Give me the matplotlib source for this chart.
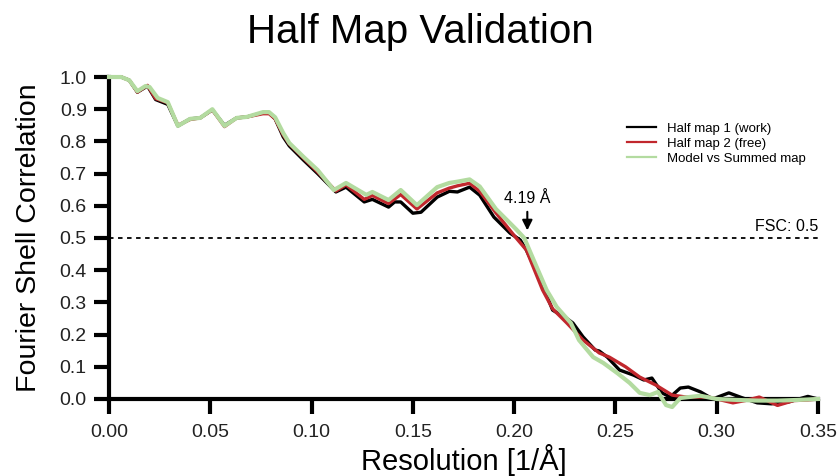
import matplotlib
matplotlib.use("Agg")
import matplotlib.pyplot as plt

plt.rcParams['font.family'] = ['Liberation Sans', 'DejaVu Sans']

# Half map 1 (work)
x_work = [0, 0.006, 0.010, 0.014, 0.019, 0.023, 0.029, 0.034, 0.040, 0.045, 0.051, 0.057,
          0.063, 0.068, 0.076, 0.079, 0.082, 0.086, 0.089, 0.096, 0.103, 0.112, 0.117, 0.126,
          0.130, 0.138, 0.141, 0.144, 0.150, 0.154, 0.162, 0.168, 0.172, 0.178, 0.183, 0.190,
          0.198, 0.203, 0.206, 0.213, 0.219, 0.226, 0.229, 0.234, 0.240, 0.242, 0.246, 0.252,
          0.259, 0.264, 0.268, 0.273, 0.277, 0.282, 0.286, 0.292, 0.298, 0.306, 0.312, 0.320,
          0.327, 0.335, 0.345, 0.350]
y_work = [1.0, 1.0, 0.99, 0.953, 0.972, 0.93, 0.915, 0.848, 0.87, 0.873, 0.898, 0.85,
          0.873, 0.876, 0.889, 0.889, 0.87, 0.814, 0.786, 0.742, 0.70, 0.643, 0.658, 0.612,
          0.62, 0.596, 0.612, 0.612, 0.577, 0.58, 0.627, 0.645, 0.643, 0.658, 0.633, 0.565,
          0.515, 0.494, 0.463, 0.37, 0.276, 0.25, 0.236, 0.193, 0.152, 0.149, 0.13, 0.09,
          0.074, 0.059, 0.065, 0.019, 0.006, 0.034, 0.037, 0.022, 0.0, 0.019, 0.005, -0.012,
          -0.015, -0.01, 0.008, 0.0]

# Half map 2 (free)
x_free = [0, 0.006, 0.010, 0.014, 0.019, 0.023, 0.029, 0.034, 0.040, 0.045, 0.051, 0.057,
          0.063, 0.068, 0.076, 0.079, 0.082, 0.086, 0.089, 0.096, 0.103, 0.112, 0.117, 0.126,
          0.130, 0.138, 0.144, 0.152, 0.162, 0.168, 0.172, 0.178, 0.183, 0.191, 0.201, 0.206,
          0.214, 0.219, 0.226, 0.234, 0.242, 0.247, 0.255, 0.262, 0.270, 0.278, 0.285, 0.296,
          0.308, 0.314, 0.321, 0.330, 0.338, 0.345, 0.350]
y_free = [1.0, 1.0, 0.99, 0.953, 0.974, 0.933, 0.92, 0.85, 0.868, 0.873, 0.898, 0.846,
          0.873, 0.876, 0.886, 0.886, 0.87, 0.82, 0.792, 0.748, 0.705, 0.646, 0.665, 0.62,
          0.632, 0.607, 0.635, 0.59, 0.64, 0.655, 0.662, 0.67, 0.645, 0.578, 0.50, 0.463,
          0.339, 0.28, 0.236, 0.183, 0.143, 0.13, 0.10, 0.068, 0.043, 0.012, 0.006, 0.006,
          -0.012, -0.005, 0.006, -0.02, -0.005, -0.003, 0.0]

# Model vs Summed map
x_model = [0, 0.006, 0.010, 0.014, 0.018, 0.020, 0.024, 0.029, 0.034, 0.040, 0.045, 0.051,
           0.057, 0.063, 0.068, 0.076, 0.079, 0.082, 0.086, 0.089, 0.096, 0.103, 0.111, 0.117,
           0.127, 0.130, 0.138, 0.144, 0.152, 0.162, 0.168, 0.172, 0.178, 0.183, 0.191, 0.201,
           0.205, 0.209, 0.216, 0.221, 0.228, 0.232, 0.239, 0.244, 0.251, 0.257, 0.262, 0.267,
           0.271, 0.275, 0.278, 0.282, 0.292, 0.300, 0.310, 0.320, 0.330, 0.340, 0.350]
y_model = [1.0, 1.0, 0.99, 0.956, 0.972, 0.969, 0.935, 0.922, 0.848, 0.87, 0.873, 0.90,
           0.848, 0.873, 0.876, 0.891, 0.891, 0.875, 0.826, 0.795, 0.752, 0.711, 0.649, 0.671,
           0.634, 0.643, 0.618, 0.649, 0.602, 0.658, 0.671, 0.675, 0.682, 0.66, 0.59, 0.527,
           0.50, 0.441, 0.339, 0.286, 0.236, 0.183, 0.13, 0.112, 0.08, 0.05, 0.019, 0.012,
           0.022, -0.019, -0.025, 0.003, 0.01, 0.0, -0.003, -0.005, -0.005, -0.003, 0.0]

fsc_cut = 0.5
res_x = 0.2065

fig = plt.figure(figsize=(8.4, 4.76), dpi=100)
ax = fig.add_axes([0.1298, 0.1618, 0.8440, 0.6764])

ax.plot(x_work, y_work, color='black', lw=2.4, clip_on=False, zorder=3,
        solid_joinstyle='round', label='Half map 1 (work)')
ax.plot(x_free, y_free, color='#c1272d', lw=2.4, clip_on=False, zorder=4,
        solid_joinstyle='round', label='Half map 2 (free)')
ax.plot(x_model, y_model, color='#b3dba0', lw=3.0, clip_on=False, zorder=5,
        solid_joinstyle='round', label='Model vs Summed map')

ax.axhline(fsc_cut, color='black', lw=1.3, ls=(0, (2.5, 2.5)), zorder=2)
ax.text(0.35, fsc_cut + 0.012, 'FSC: 0.5', ha='right', va='bottom', fontsize=11.5)

ax.annotate('', xy=(res_x, 0.515), xytext=(res_x, 0.59),
            arrowprops=dict(arrowstyle='-|>,head_width=0.3,head_length=0.6',
                            color='black', lw=1.5))
ax.text(res_x, 0.6, '4.19 Å', ha='center', va='bottom', fontsize=11.5)

ax.set_xlim(0, 0.35)
ax.set_ylim(0, 1.0)
ax.set_xticks([0.0, 0.05, 0.10, 0.15, 0.20, 0.25, 0.30, 0.35])
ax.set_xticklabels(['0.00', '0.05', '0.10', '0.15', '0.20', '0.25', '0.30', '0.35'])
ax.set_yticks([i / 10 for i in range(11)])
ax.set_yticklabels([f'{i / 10:.1f}' for i in range(11)])

for s in ['top', 'right']:
    ax.spines[s].set_visible(False)
for s in ['left', 'bottom']:
    ax.spines[s].set_linewidth(3)
ax.tick_params(width=3, length=11, direction='out', labelsize=14, pad=5,
               colors='black', labelcolor='#222222')
ax.tick_params(axis='x', pad=7)

ax.set_xlabel('Resolution [1/Å]', fontsize=21, labelpad=2)
ax.set_ylabel('Fourier Shell Correlation', fontsize=20.5, labelpad=13)
fig.suptitle('Half Map Validation', fontsize=29, y=0.972)

leg = ax.legend(loc='upper right', bbox_to_anchor=(0.99, 0.875), frameon=False, fontsize=9.5,
                handlelength=2.2, labelspacing=0.2, borderaxespad=0)
for h in leg.get_lines():
    h.set_linewidth(1.6)

fig.savefig('out.png', dpi=100)
